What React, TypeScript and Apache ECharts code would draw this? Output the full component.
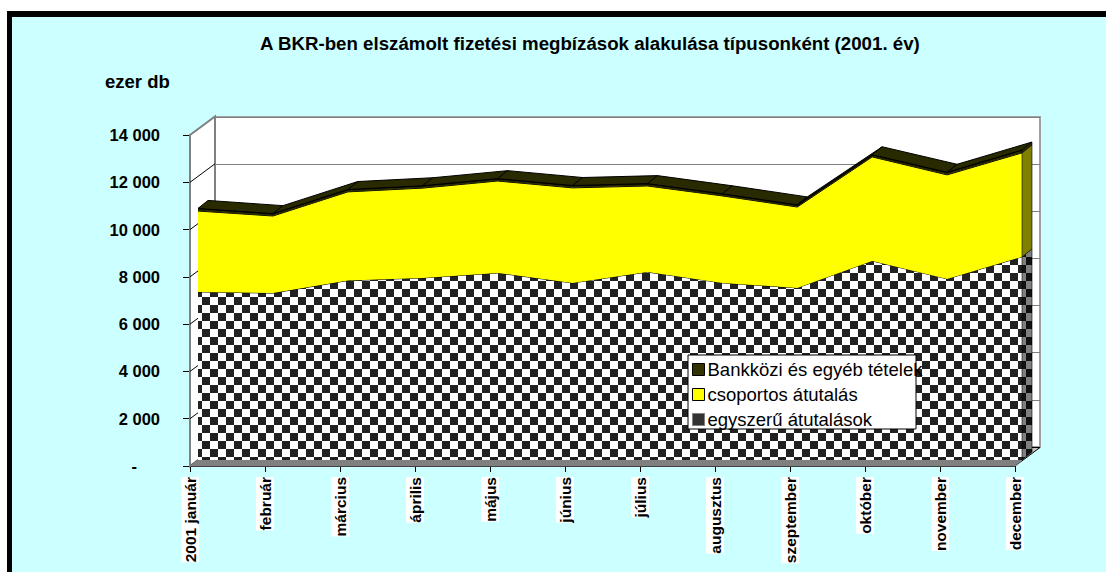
import React, { useEffect, useRef } from "react";
import * as echarts from "echarts";

const months = ["2001 január", "február", "március", "április", "május", "június", "július", "augusztus", "szeptember", "október", "november", "december"];
const egyszeru = [7110, 7060, 7590, 7700, 7910, 7490, 7950, 7490, 7280, 8420, 7660, 8590];
const csoportos = [3420, 3260, 3750, 3800, 3890, 4020, 3640, 3680, 3420, 4400, 4400, 4400];
const bankkozi = [110, 100, 100, 100, 100, 100, 100, 90, 90, 90, 110, 120];
const yMin = 0;
const yMax = 14000;
const yStep = 2000;
const yTicks = [0, 2000, 4000, 6000, 8000, 10000, 12000, 14000];
const seriesNames = ["egyszerű átutalások", "csoportos átutalás", "Bankközi és egyéb tételek"];

const FONT = '"Liberation Sans", Arial, sans-serif';
const DARK = "#2a2a00";

function checker(dark: string, light: string) {
  const c = document.createElement("canvas");
  c.width = 16;
  c.height = 16;
  const g = c.getContext("2d")!;
  g.fillStyle = light;
  g.fillRect(0, 0, 16, 16);
  g.fillStyle = dark;
  const px = 2;
  const py = 1;
  for (const [ox, oy] of [[0, 0], [-16, 0], [0, -16], [-16, -16]]) {
    g.fillRect(px + ox, py + oy, 8, 8);
    g.fillRect(px + 8 + ox, py + 8 + oy, 8, 8);
  }
  return { image: c.toDataURL(), repeat: "repeat", imageWidth: 16, imageHeight: 16 } as any;
}

export default function App() {
  const ref = useRef<HTMLDivElement>(null);
  useEffect(() => {
    document.body.style.margin = "0";
    const chart = echarts.init(ref.current!, undefined, { renderer: "svg" });
    const mainPattern = checker("#222222", "#ffffff");
    const sidePattern = checker("#111111", "#808080");
    const sum1 = egyszeru.map((v, i) => v + csoportos[i]);
    const sum2 = sum1.map((v, i) => v + bankkozi[i]);
    const last = months.length - 1;
    const DX = 10;
    const DY = -8;
    const WX = 25;
    const WY = -18.5;

    const silentPoly = (points: number[][], fill: any, stroke: string, lineWidth = 1) => ({
      type: "polygon",
      silent: true,
      shape: { points },
      style: { fill, stroke, lineWidth },
    });

    const series: any[] = [
      {
        type: "custom",
        name: "walls",
        xAxisIndex: 1,
        yAxisIndex: 1,
        z: 1,
        clip: false,
        silent: true,
        data: yTicks.map((t) => [0, t]),
        renderItem: (_p: any, api: any) => {
          const t = api.value(1);
          const a = api.coord([0, t]);
          const children: any[] = [];
          if (t === yMin) {
            const b = api.coord([last, yMin]);
            const top = api.coord([0, yMax]);
            children.push(
              silentPoly([top, [top[0] + WX, top[1] + WY], [a[0] + WX, a[1] + WY], a], "#ffffff", "#808080", 2),
              silentPoly([a, b, [b[0] + WX, b[1] + WY], [a[0] + WX, a[1] + WY]], "#c0c0c0", "#000000", 1)
            );
          } else {
            children.push({
              type: "line",
              silent: true,
              shape: { x1: a[0], y1: a[1], x2: a[0] + WX, y2: a[1] + WY },
              style: { stroke: t === yMax ? "#808080" : "#000000", lineWidth: 1 },
            });
          }
          return { type: "group", children };
        },
      },
      {
        type: "custom",
        name: "strip",
        xAxisIndex: 0,
        yAxisIndex: 0,
        z: 2,
        clip: false,
        silent: true,
        data: [[0, yMin]],
        renderItem: (_p: any, api: any) => {
          const a = api.coord([0, yMin]);
          const b = api.coord([last, yMin]);
          return silentPoly(
            [[a[0] - 8, a[1] + 6], [b[0] - 7, b[1] + 6], b, a],
            "#808080",
            "#808080",
            1
          );
        },
      },
      {
        type: "line",
        name: seriesNames[0],
        stack: "total",
        data: egyszeru,
        z: 3,
        symbol: "none",
        lineStyle: { color: "#000", width: 1 },
        areaStyle: { color: mainPattern, opacity: 1 },
      },
      {
        type: "line",
        name: seriesNames[1],
        stack: "total",
        data: csoportos,
        z: 4,
        symbol: "none",
        lineStyle: { color: "#000", width: 1 },
        areaStyle: { color: "#ffff00", opacity: 1 },
      },
      {
        type: "line",
        name: seriesNames[2],
        stack: "total",
        data: bankkozi,
        z: 5,
        symbol: "none",
        lineStyle: { color: "#000", width: 1.5 },
        areaStyle: { color: DARK, opacity: 1 },
      },
      {
        type: "custom",
        name: "top",
        z: 6,
        clip: false,
        silent: true,
        data: sum2.slice(0, -1).map((v, i) => [i, v, sum2[i + 1]]),
        renderItem: (_p: any, api: any) => {
          const i = api.value(0);
          const a = api.coord([i, api.value(1)]);
          const b = api.coord([i + 1, api.value(2)]);
          return silentPoly(
            [a, b, [b[0] + DX, b[1] + DY], [a[0] + DX, a[1] + DY]],
            DARK,
            "#000000",
            1
          );
        },
      },
      {
        type: "custom",
        name: "ends",
        z: 6,
        clip: false,
        silent: true,
        data: [
          [last, 0, egyszeru[last], 0],
          [last, egyszeru[last], sum1[last], 1],
          [last, sum1[last], sum2[last], 2],
        ],
        renderItem: (_p: any, api: any) => {
          const i = api.value(0);
          const a = api.coord([i, api.value(1)]);
          const b = api.coord([i, api.value(2)]);
          const fill = [sidePattern, "#808000", DARK][api.value(3)];
          return silentPoly(
            [a, b, [b[0] + DX, b[1] + DY], [a[0] + DX, a[1] + DY]],
            fill,
            "#000000",
            0.6
          );
        },
      },
    ];

    const hiddenX = (gridIndex: number) => ({
      type: "category",
      gridIndex,
      data: months,
      boundaryGap: false,
      show: false,
    });

    chart.setOption({
      animation: false,
      backgroundColor: "transparent",
      title: {
        text: "A BKR-ben elszámolt fizetési megbízások alakulása típusonként (2001. év)",
        left: 260,
        top: 34,
        textStyle: { fontFamily: FONT, fontWeight: "bold", fontSize: 18.7, color: "#000" },
        padding: 0,
      },
      grid: [
        { left: 198, top: 129, width: 824, height: 331 },
        { left: 190, top: 135, width: 825, height: 331 },
        {
          left: 215,
          top: 117,
          width: 825,
          height: 330,
          show: true,
          backgroundColor: "#ffffff",
          borderColor: "#a0a0a0",
          borderWidth: 2,
        },
      ],
      xAxis: [
        hiddenX(0),
        {
          type: "category",
          gridIndex: 1,
          data: months,
          boundaryGap: false,
          axisLine: { show: true, lineStyle: { color: "#000" } },
          axisTick: { show: true, length: 6, lineStyle: { color: "#000" }, alignWithLabel: true },
          axisLabel: {
            interval: 0,
            rotate: 90,
            margin: 11,
            fontFamily: FONT,
            fontWeight: "bold",
            fontSize: 15.5,
            color: "#000",
            backgroundColor: "#ffffff",
            lineHeight: 18,
            hideOverlap: false,
          },
          splitLine: { show: false },
        },
        hiddenX(2),
      ],
      yAxis: [
        { type: "value", gridIndex: 0, min: yMin, max: yMax, interval: yStep, show: false },
        {
          type: "value",
          gridIndex: 1,
          min: yMin,
          max: yMax,
          interval: yStep,
          axisLine: { show: true, lineStyle: { color: "#606060", width: 2 } },
          axisTick: { show: true, length: 7, lineStyle: { color: "#000" } },
          splitLine: { show: false },
          axisLabel: {
            margin: 30,
            fontFamily: FONT,
            fontWeight: "bold",
            fontSize: 16.5,
            color: "#000",
            formatter: (v: number) =>
              v === 0 ? "-\u00a0\u00a0\u00a0\u00a0\u00a0" : String(v).replace(/\B(?=(\d{3})+$)/g, " "),
          },
        },
        {
          type: "value",
          gridIndex: 2,
          min: yMin,
          max: yMax,
          interval: yStep,
          axisLine: { show: false },
          axisTick: { show: false },
          axisLabel: { show: false },
          splitLine: { show: true, lineStyle: { color: "#808080", width: 1 } },
        },
      ],
      legend: {
        orient: "vertical",
        left: 692,
        top: 360,
        z: 20,
        padding: 0,
        itemWidth: 12,
        itemHeight: 12,
        itemGap: 6,
        selectedMode: false,
        icon: "rect",
        textStyle: { fontFamily: FONT, fontSize: 18.5, color: "#000", padding: [0, 0, 0, -2], lineHeight: 18 },
        data: [
          { name: seriesNames[2], itemStyle: { color: "#333300", borderColor: "#000", borderWidth: 1 } },
          { name: seriesNames[1], itemStyle: { color: "#ffff00", borderColor: "#000", borderWidth: 1 } },
          { name: seriesNames[0], itemStyle: { color: "#333333", borderColor: "#808080", borderWidth: 1 } },
        ],
      },
      graphic: [
        {
          type: "rect",
          z: 19,
          silent: true,
          shape: { x: 688, y: 355, width: 228, height: 74 },
          style: { fill: "#ffffff", stroke: "#000000", lineWidth: 1 },
        },
        {
          type: "text",
          left: 105,
          top: 72,
          style: { text: "ezer db", font: `bold 18.5px ${FONT}`, fill: "#000" },
        },
      ],
      series,
    });
    return () => chart.dispose();
  }, []);

  return (
    <div style={{ position: "relative", width: 1106, height: 572, background: "#fff", overflow: "hidden" }}>
      <div
        style={{
          position: "absolute",
          left: 7,
          top: 11,
          right: 0,
          bottom: 0,
          background: "#ccffff",
          borderLeft: "5px solid #000",
          borderTop: "6px solid #000",
        }}
      />
      <div ref={ref} style={{ position: "absolute", left: 0, top: 0, width: 1106, height: 572 }} />
    </div>
  );
}
